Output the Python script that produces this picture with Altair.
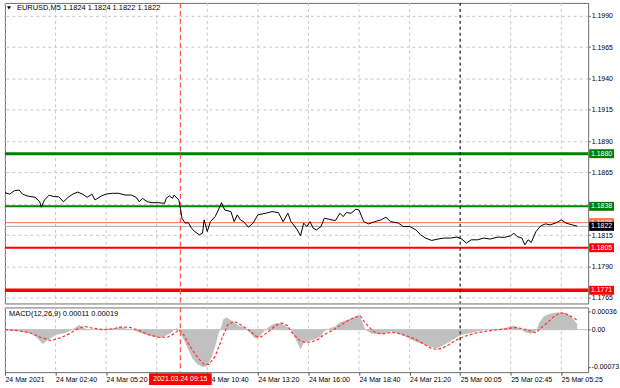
import json
import altair as alt
import pandas as pd

# ---------------- data ----------------
SYMBOL_HEADER = "EURUSD,M5  1.1824 1.1824 1.1822 1.1822"
MACD_HEADER = "MACD(12,26,9) 0.00011 0.00019"

# (bar index, close price)
price_points = [
    (0, 1.18489), (3, 1.18478), (6, 1.18505), (9, 1.18510), (11, 1.18478), (14, 1.18463),
    (19, 1.18452), (22, 1.18417), (23, 1.18373), (25, 1.18431), (28, 1.18470), (31, 1.18457),
    (34, 1.18457), (37, 1.18417), (40, 1.18452), (43, 1.18478), (46, 1.18494), (49, 1.18478),
    (52, 1.18452), (55, 1.18478), (57, 1.18431), (61, 1.18463), (64, 1.18478), (68, 1.18484),
    (72, 1.18484), (76, 1.18470), (80, 1.18470), (83, 1.18452), (85, 1.18417), (87, 1.18444),
    (90, 1.18417), (93, 1.18409), (97, 1.18409), (101, 1.18404), (102, 1.18444), (104, 1.18463),
    (106, 1.18444), (107, 1.18470), (110, 1.18431), (111, 1.18365), (112, 1.18285), (114, 1.18246),
    (116, 1.18250), (118, 1.18206), (120, 1.18179), (123, 1.18153), (125, 1.18166), (126, 1.18272),
    (128, 1.18179), (130, 1.18258), (133, 1.18298), (135, 1.18351), (137, 1.18409), (139, 1.18351),
    (143, 1.18338), (145, 1.18258), (147, 1.18312), (149, 1.18272), (151, 1.18258), (154, 1.18214),
    (157, 1.18246), (160, 1.18312), (165, 1.18325), (169, 1.18338), (173, 1.18330), (176, 1.18258),
    (179, 1.18325), (181, 1.18258), (185, 1.18192), (187, 1.18145), (189, 1.18246), (191, 1.18219),
    (193, 1.18258), (195, 1.18206), (197, 1.18192), (200, 1.18219), (202, 1.18285), (205, 1.18277),
    (209, 1.18266), (212, 1.18325), (214, 1.18298), (216, 1.18330), (219, 1.18325), (222, 1.18357),
    (224, 1.18351), (227, 1.18258), (230, 1.18240), (234, 1.18258), (238, 1.18272), (241, 1.18293),
    (244, 1.18258), (249, 1.18246), (252, 1.18219), (256, 1.18219), (260, 1.18192), (263, 1.18153),
    (266, 1.18127), (270, 1.18108), (274, 1.18119), (278, 1.18127), (282, 1.18127), (286, 1.18135),
    (289, 1.18119), (292, 1.18087), (295, 1.18113), (299, 1.18113), (303, 1.18127), (307, 1.18119),
    (312, 1.18135), (316, 1.18132), (320, 1.18145), (322, 1.18166), (324, 1.18140), (327, 1.18127),
    (329, 1.18073), (331, 1.18113), (333, 1.18092), (336, 1.18179), (339, 1.18224), (342, 1.18240),
    (345, 1.18232), (349, 1.18250), (352, 1.18272), (355, 1.18246), (359, 1.18232), (362, 1.18222),
]

# MACD main (histogram), in units of 1e-5
macd_points = [
    (0, -1.3), (7, -2.6), (13, -5.2), (18, -9.7), (21, -18.2), (24, -27.9), (26, -22.7), (29, -16.2),
    (33, -9.7), (38, -6.5), (41, -3.2), (44, 3.2), (47, 9.1), (50, 3.2), (53, 0), (57, 0), (62, 1.3),
    (66, 1.9), (70, 3.2), (73, 5.2), (76, 2.6), (80, 0), (83, -3.2), (87, -7.8), (91, -11.7),
    (95, -14.3), (98, -16.2), (101, -13), (105, -6.5), (107, 0), (109, 3.2), (111, -6.5), (113, -19.5),
    (115, -32.4), (117, -45.4), (119, -58.4), (122, -68.1), (125, -73.3), (127, -72.7), (129, -64.9),
    (131, -51.9), (133, -32.4), (135, -9.7), (137, 6.5), (138, 19.5), (140, 24), (144, 16.2),
    (147, 9.7), (149, 6.5), (151, 5.2), (153, 0), (155, -6.5), (158, -16.2), (160, -18.2), (162, -9.7),
    (166, 3.2), (169, 9.7), (172, 13), (175, 11.7), (178, 6.5), (181, 0), (184, -19.5), (187, -38.9),
    (189, -26), (193, -21), (197, -18), (200, -13), (202, -3), (206, 3.2), (209, 6.5), (212, 14.3),
    (216, 18.2), (220, 22.7), (224, 29.2), (226, 16.2), (228, 0), (232, -7.8), (236, -8.4), (240, -7.8),
    (244, -3.2), (248, -6.5), (253, -13), (257, -19.5), (261, -24.7), (265, -29.2), (269, -33.7),
    (273, -37.6), (276, -32.4), (280, -26), (284, -18.2), (287, -13), (290, -9.7), (295, -6.5),
    (299, -3.2), (303, -1.3), (307, 0), (312, 1.3), (316, 2.6), (320, 6.5), (322, 7.8), (326, 1.3),
    (329, -5.2), (333, -7.8), (336, -3.2), (338, 13), (341, 26), (345, 31.1), (349, 33.7), (353, 33.7),
    (357, 29.2), (360, 19.5), (362, 11),
]

# MACD signal line, in units of 1e-5
signal_points = [
    (0, 0), (7, -1.3), (16, -6.5), (22, -14.3), (29, -21.4), (35, -16.2), (41, -7.8), (45, 0),
    (50, 6.5), (55, 3.2), (62, 0), (68, 1.3), (73, 5.2), (79, 4.5), (85, -1.9), (91, -9.7),
    (97, -14.9), (103, -14.9), (107, -7.8), (110, 0), (113, -9.7), (117, -32.4), (122, -55.1),
    (126, -68.1), (129, -68.1), (133, -51.9), (137, -19.5), (141, 9.7), (145, 16.2), (149, 9.7),
    (154, 0), (159, -13), (162, -14.3), (167, -3.2), (171, 7.8), (175, 13), (179, 7.8), (181, -4),
    (186, -20), (190, -25), (194, -24), (198, -19.5), (202, -9.7), (208, 0), (213, 9.7), (218, 19.5),
    (222, 24.7), (225, 26), (228, 13), (233, -3.2), (237, -7.8), (241, -7.8), (244, -5.2), (248, -6.5),
    (254, -11.7), (260, -19.5), (265, -27.9), (269, -35.7), (273, -38.9), (277, -35.7), (281, -29.2),
    (286, -19.5), (291, -13), (298, -6.5), (304, -3.2), (312, 0), (318, 1.9), (323, 4.5), (328, 1.3),
    (333, -3.2), (336, -6.5), (339, 3.2), (343, 13), (347, 24.7), (351, 32.4), (354, 32.4), (358, 26),
    (362, 19),
]

x_tick_bars = [0, 32, 64, 96, 128, 160, 192, 224, 256, 288, 320, 352]
# the 08:00 label sits under the red time marker in the reference, so it is blank
x_tick_labels = ["24 Mar 2021", "24 Mar 02:40", "24 Mar 05:20", "", "24 Mar 10:40",
                 "24 Mar 13:20", "24 Mar 16:00", "24 Mar 18:40", "24 Mar 21:20", "25 Mar 00:05",
                 "25 Mar 02:45", "25 Mar 05:25"]
price_ticks = [1.1765, 1.1790, 1.1815, 1.1840, 1.1865, 1.1890, 1.1915, 1.1940, 1.1965, 1.1990]
# 1.1840 sits under the 1.1838 level box, so it is blank
price_tick_labels = ["1.1765", "1.1790", "1.1815", "", "1.1865", "1.1890", "1.1915", "1.1940",
                     "1.1965", "1.1990"]
macd_ticks = [36, 0, -73]
macd_tick_labels = ["0.00036", "0.00", "-0.00073"]

resistance_strong = 1.1880
resistance = 1.1838
ask_price = 1.1825
bid_price = 1.1822
support = 1.1805
support_strong = 1.1771

marker_bar = 111
marker_label = "2021.03.24 09:15"
day_sep_bar = 288

# ---------------- layout / style ----------------
X_DOMAIN = [0, 369]
PRICE_DOMAIN = [1.17605, 1.20003]
MACD_DOMAIN = [-83.1, 43.4]
W, H_MAIN, H_MACD = 586, 302, 65
FONT = "Liberation Sans"
GRID = "#c8c8c8"
BOX_X = 599.5

price_df = pd.DataFrame(price_points, columns=["bar", "price"])
macd_df = pd.DataFrame(macd_points, columns=["bar", "v"])
signal_df = pd.DataFrame(signal_points, columns=["bar", "v"])
grid_df = pd.DataFrame({"bar": x_tick_bars})

xs = alt.Scale(domain=X_DOMAIN, nice=False, zero=False)
ys_main = alt.Scale(domain=PRICE_DOMAIN, nice=False, zero=False)
ys_macd = alt.Scale(domain=MACD_DOMAIN, nice=False, zero=False)

lbl_expr_p = "{}[indexof({}, round(datum.value*10000))]".format(
    json.dumps(price_tick_labels), json.dumps([round(p * 10000) for p in price_ticks]))
main_y_axis = alt.Axis(orient="right", values=price_ticks, labelExpr=lbl_expr_p, labelFont=FONT,
                       labelFontSize=7, labelColor="#000", labelPadding=1, tickSize=2,
                       tickColor="#555", domain=False, grid=True, gridColor=GRID, gridDash=[3, 3],
                       title=None, labelOverlap=False)

lbl_expr_x = "{}[indexof({}, datum.value)]".format(json.dumps(x_tick_labels), json.dumps(x_tick_bars))
macd_x_axis = alt.Axis(values=x_tick_bars, labelExpr=lbl_expr_x, labelAlign="left",
                       labelBaseline="middle", labelFont=FONT,
                       labelFontSize=7, labelColor="#000", labelPadding=4, tickSize=3,
                       tickColor="#555", domain=False, grid=False,
                       title=None, labelOverlap=False, labelFlush=False)
lbl_expr_m = "{}[indexof({}, datum.value)]".format(json.dumps(macd_tick_labels), json.dumps(macd_ticks))
macd_y_axis = alt.Axis(orient="right", values=macd_ticks, labelExpr=lbl_expr_m, labelFont=FONT,
                       labelFontSize=7, labelColor="#000", labelPadding=1, tickSize=2,
                       tickColor="#555", domain=False, grid=False, title=None, labelOverlap=False)

X_MAIN = alt.X("bar:Q", scale=xs, axis=None)
Y_MAIN = alt.Y("price:Q", scale=ys_main, axis=main_y_axis)
X_MACD = alt.X("bar:Q", scale=xs, axis=macd_x_axis)
Y_MACD = alt.Y("v:Q", scale=ys_macd, axis=macd_y_axis)


def level_rule(value, color, width):
    return alt.Chart(pd.DataFrame({"price": [value]})).mark_rule(
        color=color, strokeWidth=width).encode(y=Y_MAIN)


def level_box(value, fill):
    df = pd.DataFrame({"price": [value], "label": [f"{value:.4f}"]})
    box = alt.Chart(df).mark_tick(orient="horizontal", thickness=9, size=25, color=fill,
                                  opacity=1).encode(y=Y_MAIN, x=alt.value(BOX_X))
    txt = alt.Chart(df).mark_text(color="white", font=FONT, fontSize=7, align="center",
                                  baseline="middle").encode(y=Y_MAIN, x=alt.value(BOX_X),
                                                            text="label:N")
    return box + txt


def vline(bar, color, dash, width, xenc):
    return alt.Chart(pd.DataFrame({"bar": [bar]})).mark_rule(
        color=color, strokeDash=dash, strokeWidth=width).encode(x=xenc)


def vgrid(xenc):
    return alt.Chart(grid_df).mark_rule(color=GRID, strokeDash=[3, 3], strokeWidth=1).encode(x=xenc)


price_line = alt.Chart(price_df).mark_line(color="black", strokeWidth=1).encode(x=X_MAIN, y=Y_MAIN)

header = alt.Chart(pd.DataFrame({"t": [SYMBOL_HEADER]})).mark_text(
    align="left", baseline="middle", font=FONT, fontSize=7.5, color="black").encode(
    x=alt.value(12), y=alt.value(5), text="t:N")
tri = alt.Chart(pd.DataFrame({"t": [SYMBOL_HEADER]})).mark_point(
    shape="triangle-down", filled=True, size=16, color="black", opacity=1).encode(
    x=alt.value(4), y=alt.value(5))

main = alt.layer(
    vgrid(X_MAIN),
    level_rule(bid_price, "#a8a8a8", 1),
    level_rule(ask_price, "#ff7043", 1),
    level_rule(resistance_strong, "#008000", 3),
    level_rule(resistance, "#008000", 2),
    level_rule(support, "#ff0000", 2),
    level_rule(support_strong, "#ff0000", 3.5),
    vline(day_sep_bar, "black", [3, 3], 1, X_MAIN),
    vline(marker_bar, "#ff5a5a", [5, 3], 1.3, X_MAIN),
    price_line,
    header, tri,
    level_box(resistance_strong, "#008000"),
    level_box(resistance, "#008000"),
    level_box(ask_price, "#ff7043"),
    level_box(bid_price, "#000000"),
    level_box(support, "#ff0000"),
    level_box(support_strong, "#ff0000"),
).properties(width=W, height=H_MAIN)

zero_rule = alt.Chart(pd.DataFrame({"v": [0]})).mark_rule(color="#c0c0c0", strokeWidth=1).encode(y=Y_MACD)
hist = alt.Chart(macd_df).mark_area(color="#c0c0c0", opacity=1).encode(
    x=X_MACD, y=Y_MACD, y2=alt.datum(0))
sig = alt.Chart(signal_df).mark_line(color="#ff3030", strokeDash=[3, 2], strokeWidth=1.2).encode(
    x=X_MACD, y=Y_MACD)
macd_header = alt.Chart(pd.DataFrame({"t": [MACD_HEADER]})).mark_text(
    align="left", baseline="middle", font=FONT, fontSize=7.5, color="black").encode(
    x=alt.value(4), y=alt.value(7), text="t:N")
mk_df = pd.DataFrame({"bar": [marker_bar], "label": [marker_label]})
mk_box = alt.Chart(mk_df).mark_tick(orient="vertical", thickness=63, size=12, color="#ff0000",
                                    opacity=1).encode(x=X_MACD, y=alt.value(H_MACD + 7))
mk_txt = alt.Chart(mk_df).mark_text(color="white", font=FONT, fontSize=7, align="center",
                                    baseline="middle").encode(x=X_MACD, y=alt.value(H_MACD + 7),
                                                              text="label:N")

macd = alt.layer(
    vgrid(X_MACD),
    zero_rule, hist, sig,
    vline(day_sep_bar, "black", [3, 3], 1, X_MACD),
    vline(marker_bar, "#ff5a5a", [5, 3], 1.3, X_MACD),
    macd_header, mk_box, mk_txt,
).properties(width=W, height=H_MACD)

chart = alt.vconcat(main, macd, spacing=0).properties(
    padding={"left": 2, "top": 0, "right": 0, "bottom": 0},
    background="white",
).configure_view(stroke="#6e6e6e", strokeWidth=1)

chart.save("out.html", embed_options={"renderer": "svg", "actions": False})
